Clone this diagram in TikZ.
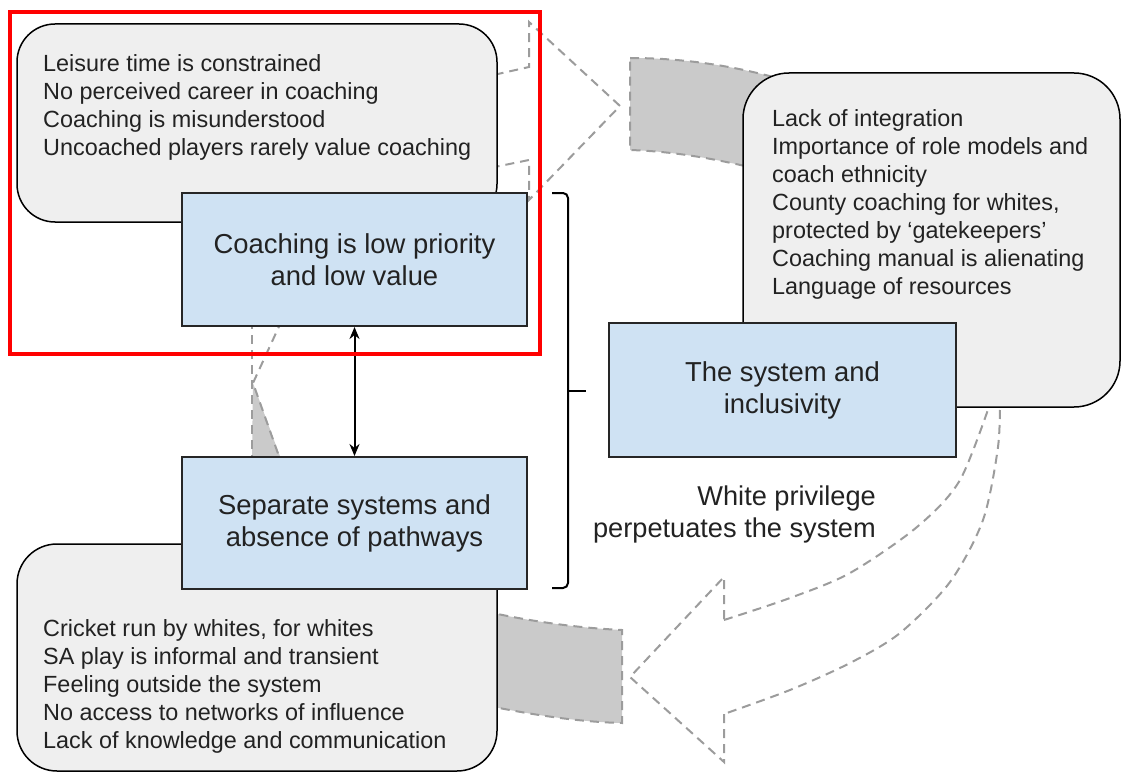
\documentclass[tikz,border=0pt]{standalone}
\usepackage{fontspec}
\setmainfont{Liberation Sans}
\usetikzlibrary{arrows.meta}
\definecolor{boxgray}{HTML}{EFEFEF}
\definecolor{boxblue}{HTML}{CFE2F3}
\definecolor{dashgray}{HTML}{9C9C9C}
\definecolor{bandgray}{HTML}{CACACA}
\definecolor{txt}{HTML}{222222}
\begin{document}
\begin{tikzpicture}[x=1pt,y=-1pt,
  graybox/.style={draw=black, line width=1.5pt, fill=boxgray, inner sep=0pt},
  bluebox/.style={draw=black!85, line width=2pt, fill=boxblue, inner sep=0pt, align=center,
    font=\fontsize{27.4}{32}\selectfont, text=txt},
  graytext/.style={font=\fontsize{23.4}{28}\selectfont, align=left, inner sep=0pt, text=txt},
  bigtext/.style={font=\fontsize{27.2}{32}\selectfont, inner sep=0pt, text=txt},
  dashcurve/.style={draw=dashgray, line width=2pt, dash pattern=on 9pt off 6pt},
  brace/.style={draw=black, line width=2pt, rounded corners=5pt},
  focusbox/.style={draw=red, line width=4pt, inner sep=0pt}]
\useasboundingbox (0,0) rectangle (1122,773);

% ---- cyclic dashed arrows (behind everything) ----
% top arrow
\draw[dashcurve, fill=bandgray] (630,58) .. controls (690,58) and (750,68) .. (810,88)
  -- (810,182) .. controls (740,164) and (690,152) .. (630,150) -- cycle;
\draw[dashcurve] (480,78) -- (529,67) -- (529,22) -- (620,106) -- (529,200) -- (529,160) -- (480,170);
% right arrow
\draw[dashcurve] plot[smooth] coordinates {(1000,395) (998,447) (983,520) (950,582) (900,633) (850,663) (790,690) (724,714)};
\draw[dashcurve] plot[smooth] coordinates {(724,620) (790,598) (850,573) (917,527) (960,480) (992,398)};
\draw[dashcurve] (724,714) -- (724,762) -- (630,677) -- (724,577) -- (724,620);
% bottom band
\draw[dashcurve, fill=bandgray] (470,608) .. controls (530,622) and (580,628) .. (622,630)
  -- (622,723) .. controls (580,722) and (530,715) .. (470,702) -- cycle;
% left twist
\fill[bandgray] (253,383) -- (281,459) -- (252,459) -- cycle;
\draw[dashcurve] (252,320) -- (252,462);
\draw[dashcurve] (282,320) -- (253,383) -- (281,462);

% ---- gray boxes ----
\node[graybox, rounded corners=38pt, minimum width=480pt, minimum height=198pt] (g1) at (257,123) {};
\node[graybox, rounded corners=46pt, minimum width=377pt, minimum height=334pt] (g2) at (931.5,240) {};
\node[graybox, rounded corners=40pt, minimum width=480pt, minimum height=227pt] (g3) at (257,657.5) {};

\node[graytext, anchor=west] (t1) at (43,107) {Leisure time is constrained\\No perceived career in coaching\\Coaching is misunderstood\\Uncoached players rarely value coaching};
\node[graytext, anchor=west] (t2) at (772,204.5) {Lack of integration\\Importance of role models and\\coach ethnicity\\County coaching for whites,\\protected by `gatekeepers'\\Coaching manual is alienating\\Language of resources};
\node[graytext, anchor=west] (t3) at (43,686) {Cricket run by whites, for whites\\SA play is informal and transient\\Feeling outside the system\\No access to networks of influence\\Lack of knowledge and communication};

% ---- blue boxes ----
\node[bluebox, minimum width=345pt, minimum height=133pt] (b1) at (354.5,259.5) {Coaching is low priority\\and low value};
\node[bluebox, minimum width=345pt, minimum height=132pt] (b2) at (354.5,523) {Separate systems and\\absence of pathways};
\node[bluebox, minimum width=347pt, minimum height=134pt] (b3) at (782.5,390) {The system and\\inclusivity};

\node[bigtext, align=right, anchor=east] (wp) at (876,514) {White privilege\\perpetuates the system};

% ---- double arrow ----
\draw[line width=2pt, {Stealth[length=12pt,width=10pt]}-{Stealth[length=12pt,width=10pt]}] (b1.south) -- (b2.north);

% ---- bracket ----
\coordinate (bt) at (552,193);
\coordinate (bb) at (552,588);
\coordinate (bm) at (568,391);
\coordinate (bx) at (586,391);
\draw[brace] (bt) -- (568,193) -- (568,588) -- (bb);
\draw[line width=2pt] (bm) -- (bx);

% ---- red focus frame ----
\node[focusbox, minimum width=530pt, minimum height=342pt] (focus) at (275,183) {};
\end{tikzpicture}
\end{document}
